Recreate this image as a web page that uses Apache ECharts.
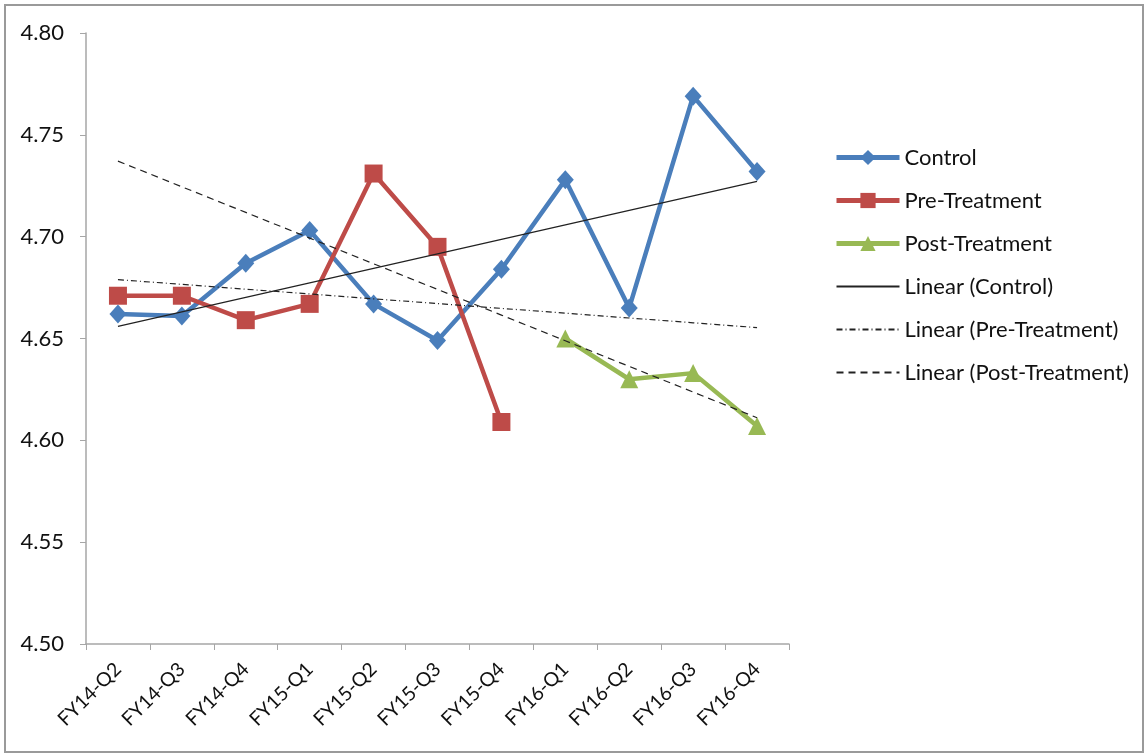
<!DOCTYPE html>
<html>
<head>
<meta charset="utf-8">
<script src="https://cdn.jsdelivr.net/npm/echarts@6/dist/echarts.min.js"></script>
<style>
html, body { margin: 0; padding: 0; background: #fff; }
#chart { width: 1146px; height: 754px; }
</style>
</head>
<body>
<div id="chart"></div>
<script>
var categories = ['FY14-Q2', 'FY14-Q3', 'FY14-Q4', 'FY15-Q1', 'FY15-Q2', 'FY15-Q3',
	'FY15-Q4', 'FY16-Q1', 'FY16-Q2', 'FY16-Q3', 'FY16-Q4'];
var control = [4.662, 4.661, 4.687, 4.703, 4.667, 4.649, 4.684, 4.728, 4.665, 4.769, 4.732];
var preTreatment = [4.671, 4.671, 4.659, 4.667, 4.731, 4.695, 4.609, null, null, null, null];
var postTreatment = [null, null, null, null, null, null, null, 4.650, 4.630, 4.633, 4.607];
var yTicks = { min: 4.50, max: 4.80, step: 0.05 };

// least squares trend over the category index, drawn across the whole axis
function trend(values) {
	var n = 0, sx = 0, sy = 0, sxx = 0, sxy = 0;
	for (var i = 0; i < values.length; i++) {
		if (values[i] == null) continue;
		n++; sx += i; sy += values[i]; sxx += i * i; sxy += i * values[i];
	}
	var slope = (n * sxy - sx * sy) / (n * sxx - sx * sx);
	var icpt = (sy - slope * sx) / n;
	var out = [];
	for (var j = 0; j < values.length; j++) {
		out.push(+(icpt + slope * j).toFixed(5));
	}
	return out;
}

var font = 'Lato, "Liberation Sans", sans-serif';
var myChart = echarts.init(document.getElementById('chart'));

function mainSeries(name, data, color, symbol, size) {
	return {
		name : name,
		type : 'line',
		data : data,
		symbol : symbol,
		symbolSize : size,
		showAllSymbol : true,
		connectNulls : false,
		lineStyle : { color : color, width : 4.5 },
		itemStyle : { color : color },
		z : 2,
		animation : false
	};
}

function trendSeries(name, data, dash) {
	return {
		name : name,
		type : 'line',
		data : data,
		symbol : 'none',
		lineStyle : { color : '#222', width : 1.2, type : dash },
		itemStyle : { color : '#222', opacity : 0 },
		z : 3,
		silent : true,
		animation : false
	};
}

var option = {
	backgroundColor : '#fff',
	animation : false,
	graphic : [ {
		type : 'rect',
		shape : { x : 5, y : 5, width : 1138, height : 747 },
		style : { fill : 'none', stroke : '#9a9a9a', lineWidth : 2 },
		silent : true
	} ],
	grid : {
		left : 86,
		right : 357,
		top : 33,
		bottom : 110
	},
	legend : {
		orient : 'vertical',
		left : 829,
		top : 139,
		itemWidth : 63,
		itemHeight : 19,
		itemGap : 16,
		textStyle : { fontFamily : font, fontSize : 22, color : '#111', lineHeight : 27 },
		data : [
			{ name : 'Control', lineStyle : { width : 5 } },
			{ name : 'Pre-Treatment', lineStyle : { width : 5 } },
			{ name : 'Post-Treatment', lineStyle : { width : 5 } },
			{ name : 'Linear (Control)' },
			{ name : 'Linear (Pre-Treatment)' },
			{ name : 'Linear (Post-Treatment)' }
		]
	},
	xAxis : {
		type : 'category',
		data : categories,
		boundaryGap : true,
		axisLine : { lineStyle : { color : '#a6a6a6', width : 1.5 } },
		axisTick : { show : true, length : 6, alignWithLabel : false, lineStyle : { color : '#a6a6a6' } },
		axisLabel : {
			rotate : 45,
			interval : 0,
			margin : 22,
			fontFamily : font,
			fontSize : 19.5,
			color : '#111'
		},
		splitLine : { show : false }
	},
	yAxis : {
		type : 'value',
		min : yTicks.min,
		max : yTicks.max,
		interval : yTicks.step,
		axisLine : { show : true, lineStyle : { color : '#a6a6a6', width : 1.5 } },
		axisTick : { show : true, length : 6, lineStyle : { color : '#a6a6a6' } },
		axisLabel : {
			fontFamily : font,
			fontSize : 22,
			color : '#111',
			margin : 22,
			formatter : function(v) { return v.toFixed(2); }
		},
		splitLine : { show : false }
	},
	series : [
		mainSeries('Control', control, '#4a7ebb', 'diamond', [17, 19]),
		mainSeries('Pre-Treatment', preTreatment, '#be4b48', 'rect', 18),
		mainSeries('Post-Treatment', postTreatment, '#98b954', 'triangle', 18),
		trendSeries('Linear (Control)', trend(control), 'solid'),
		trendSeries('Linear (Pre-Treatment)', trend(preTreatment), [6, 3, 1, 3]),
		trendSeries('Linear (Post-Treatment)', trend(postTreatment), [7, 5])
	]
};
myChart.setOption(option);
</script>
</body>
</html>
